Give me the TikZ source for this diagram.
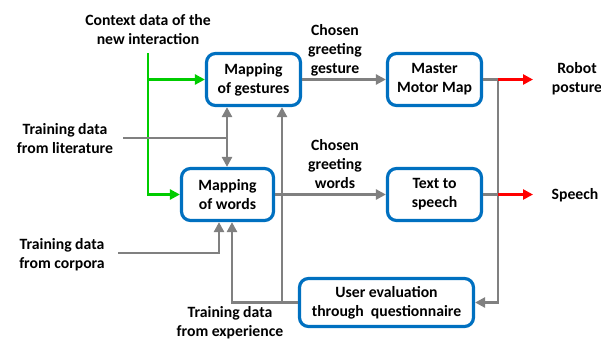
\documentclass[tikz,border=0pt]{standalone}
\usepackage{fontspec}
\setmainfont{Carlito}
\usetikzlibrary{arrows.meta,calc}
\definecolor{boxblue}{RGB}{0,112,192}
\definecolor{lgray}{RGB}{128,128,128}
\definecolor{lgreen}{RGB}{0,204,0}
\definecolor{lred}{RGB}{255,0,0}
\begin{document}
\begin{tikzpicture}[x=1pt,y=-1pt,
  every node/.style={font=\fontsize{15.7}{19}\selectfont\bfseries, align=center, inner sep=0pt},
  blk/.style={draw=boxblue, line width=3.2pt, rounded corners=9pt, fill=white},
  lbl/.style={},
  tip/.style={-{Triangle[length=10pt,width=10pt]}},
  gl/.style={draw=lgray, line width=2.8pt},
  grn/.style={draw=lgreen, line width=2.8pt},
  rd/.style={draw=lred, line width=2.8pt}]
\useasboundingbox (0,0) rectangle (601,341);
% boxes
\node[blk, minimum width=94pt, minimum height=52pt] (gest) at (253.5,79.5) {Mapping\\of gestures};
\node[blk, minimum width=94pt, minimum height=52pt] (mmm) at (434.5,79.5) {Master\\Motor Map};
\node[blk, minimum width=92pt, minimum height=52pt] (words) at (227.5,194.5) {Mapping\\of words};
\node[blk, minimum width=94pt, minimum height=52pt] (tts) at (434.5,194.5) {Text to\\speech};
\node[blk, minimum width=174pt, minimum height=48pt] (user) at (386.5,302.5) {User evaluation\\through\ \ questionnaire};
% labels
\node[lbl] (ctx) at (148,30) {Context data of the\\new interaction};
\node[lbl] (cgg) at (335,50) {Chosen\\greeting\\gesture};
\node[lbl] (rp) at (577,79) {Robot\\posture};
\node[lbl] (lit) at (65,139) {Training data\\from literature};
\node[lbl] (cgw) at (335,164) {Chosen\\greeting\\words};
\node[lbl] (sp) at (575,195) {Speech};
\node[lbl] (corp) at (62,255) {Training data\\from corpora};
\node[lbl] (exp) at (230,323) {Training data\\from experience};
% coordinates
\coordinate (gtop) at (148,53);
\coordinate (litS) at (123,138);
\coordinate (litJ) at (227,138);
\coordinate (corS) at (118,253);
\coordinate (vr) at (498,79.5);
\coordinate (redend) at (533,79.5);
\coordinate (xj) at (282,302.5);
\coordinate (xe) at (232,302.5);
\coordinate (xc) at (219,253);
% green
\draw[grn, tip] (gtop) |- (words.west);
\draw[grn, tip] (gtop |- gest.west) -- (gest.west);
% gray main
\draw[gl, tip] (gest.east) -- (mmm.west);
\draw[gl, tip] (words.east) -- (tts.west);
\draw[gl] (mmm.east) -- (vr);
\draw[gl, tip] (vr) |- (user.east);
\draw[gl] (tts.east) -- (tts.east -| vr);
% red
\draw[rd, tip] (vr) -- (redend);
\draw[rd, tip] (tts.east -| vr) -- (redend |- tts.east);
% literature
\draw[gl] (litS) -- (litJ);
\draw[gl, tip] (litJ) -- (litJ |- gest.south);
\draw[gl, tip] (litJ) -- (litJ |- words.north);
% corpora
\draw[gl, tip] (corS) -- (xc) -- (xc |- words.south);
% experience
\draw[gl, tip] (user.west) -- (xe) -- (xe |- words.south);
\draw[gl, tip] (xj) -- (xj |- gest.south);
\end{tikzpicture}
\end{document}
